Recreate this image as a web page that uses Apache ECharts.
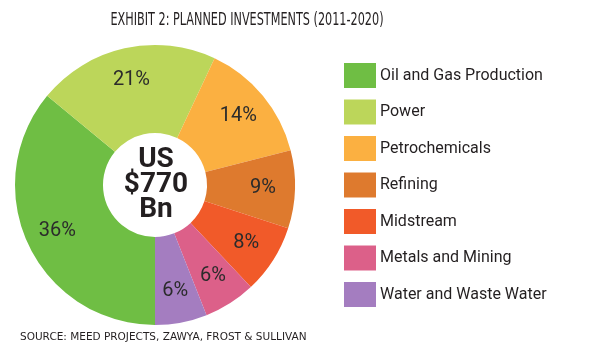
<!DOCTYPE html>
<html>
<head>
<meta charset="utf-8">
<script src="https://cdn.jsdelivr.net/npm/echarts@6/dist/echarts.min.js"></script>
<style>
html,body{margin:0;padding:0;background:#fff;}
#chart{width:600px;height:356px;}
</style>
</head>
<body>
<div id="chart"></div>
<script>
const categories = ['Oil and Gas Production','Power','Petrochemicals','Refining','Midstream','Metals and Mining','Water and Waste Water'];
const shares = [36, 21, 14, 9, 8, 6, 6];
const colors = ['#6fbe44','#bcd65a','#fbb041','#de7a2e','#f15a29','#dc6089','#a47dc0'];
const titleText = 'EXHIBIT 2: PLANNED INVESTMENTS (2011-2020)';
const sourceText = 'SOURCE: MEED PROJECTS, ZAWYA, FROST & SULLIVAN';
const centerLines = ['US', '$770', 'Bn'];

const chart = echarts.init(document.getElementById('chart'), null, {renderer:'canvas'});
const mainData = categories.map((c,i)=>({name:c, value:shares[i], itemStyle:{color:colors[i]}}));
const labelData = categories.map((c,i)=>({name:c, value:shares[i], itemStyle:{color:'rgba(0,0,0,0)'}}));

chart.setOption({
  animation:false,
  title:[
    {text:sourceText, left:20, top:332, padding:0,
     textStyle:{fontFamily:'DejaVu Sans', fontSize:10.5, fontWeight:'normal', color:'#231f20'}}
  ],
  legend:{
    orient:'vertical', left:344, top:63, padding:0,
    itemWidth:32, itemHeight:25, itemGap:11.5,
    icon:'rect',
    data:categories,
    selectedMode:false,
    textStyle:{fontFamily:'Roboto', fontSize:16, color:'#231f20', padding:[0,0,0,-1]}
  },
  series:[
    {
      type:'pie', center:[155,185], radius:[52,140], startAngle:-90, clockwise:true,
      silent:true, label:{show:false}, labelLine:{show:false},
      itemStyle:{borderWidth:0},
      data:mainData
    },
    {
      type:'pie', center:[155,185], radius:[70,140], startAngle:-90, clockwise:true,
      silent:true,
      label:{show:true, position:'inside', formatter:'{c}%',
        fontFamily:'Roboto', fontSize:20, color:'#2b2b2b', fontWeight:'normal'},
      labelLine:{show:false},
      itemStyle:{borderWidth:0},
      data:labelData
    }
  ],
  graphic:[
    {
      type:'text', x:247, y:21, scaleY:1.35,
      style:{text:titleText, fontFamily:'DejaVu Sans Condensed, Liberation Sans, sans-serif', fontSize:12.5,
        fill:'#231f20', align:'center', verticalAlign:'middle'}
    },
    {
      type:'text', x:156, y:185,
      style:{text:centerLines.join('\n'), fontFamily:'Roboto', fontWeight:'bold', fontSize:28,
        lineHeight:25, fill:'#231f20', align:'center', verticalAlign:'middle'}
    }
  ]
});
</script>
</body>
</html>
